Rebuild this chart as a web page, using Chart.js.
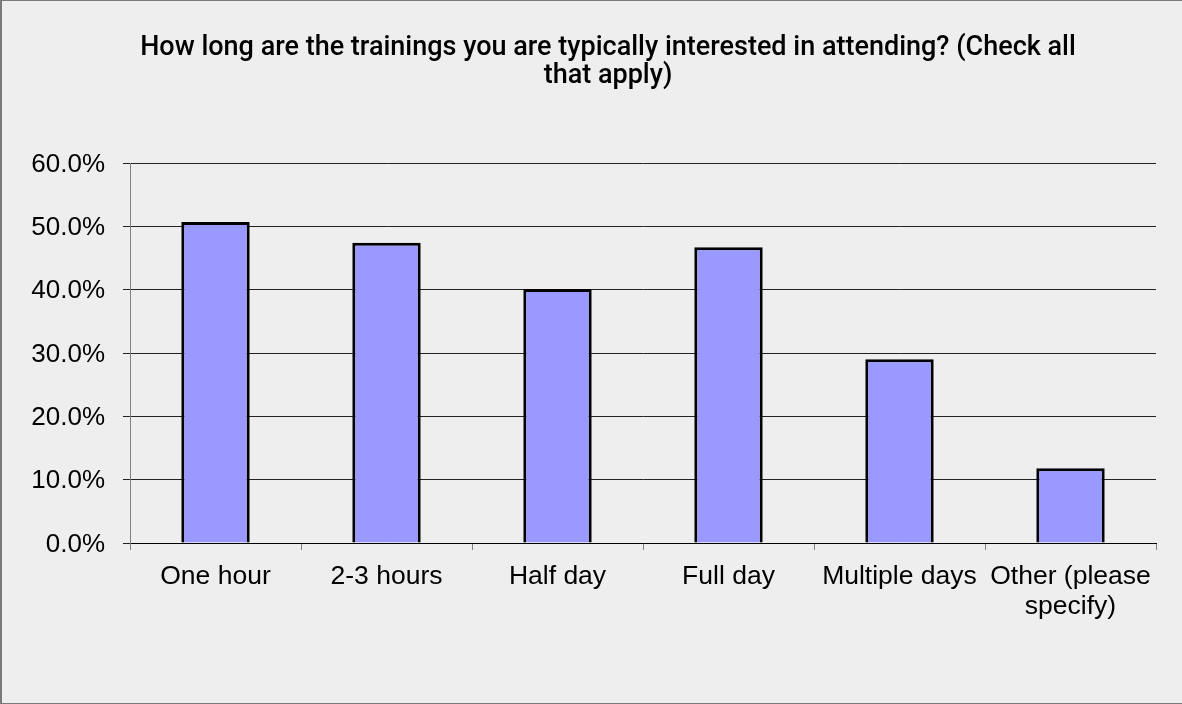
<!DOCTYPE html>
<html>
<head>
<meta charset="utf-8">
<script src="https://cdn.jsdelivr.net/npm/chart.js@4.4.0/dist/chart.umd.min.js"></script>
<style>
  html, body { margin: 0; padding: 0; background: #eeeeee; }
  canvas { display: block; }
</style>
</head>
<body>
<canvas id="chartDuration" width="1182" height="704"></canvas>
<script>
var titleLines = ['How long are the trainings you are typically interested in attending? (Check all', 'that apply)'];
var categories = ['One hour', '2-3 hours', 'Half day', 'Full day', 'Multiple days', ['Other (please', 'specify)']];
var percentages = [50.7, 47.4, 40.1, 46.7, 29.0, 11.8];
var yTicks = [0, 10, 20, 30, 40, 50, 60];

// background + frame like the original export
var framePlugin = {
    id: 'frame',
    beforeDraw: function(chart) {
        var c = chart.ctx;
        c.save();
        c.fillStyle = '#eeeeee';
        c.fillRect(0, 0, chart.width, chart.height);
        c.fillStyle = '#7a7a7a';
        c.fillRect(0, 0, chart.width, 1);
        c.fillRect(0, 0, 2, chart.height);
        c.fillRect(0, chart.height - 1, chart.width, 1);
        c.restore();
    }
};

// the title in the original sits a bit right of the canvas centre
var titleShift = {
    id: 'titleShift',
    afterLayout: function(chart) {
        if (chart.titleBlock) {
            chart.titleBlock.left += 30;
            chart.titleBlock.right += 30;
        }
    }
};

var ctx = document.getElementById('chartDuration');
var myChart = new Chart(ctx, {
    type: 'bar',
    data: {
        labels: categories,
        datasets: [{
            label: 'Percent',
            data: percentages,
            backgroundColor: '#9999ff',
            borderColor: '#000000',
            borderWidth: 3,
            barPercentage: 0.4,
            categoryPercentage: 1.0
        }]
    },
    options: {
        responsive: false,
        animation: false,
        layout: { padding: { left: 0, right: 26, top: 0, bottom: 0 } },
        plugins: {
            legend: { display: false },
            tooltip: { enabled: false },
            title: {
                display: true,
                text: titleLines,
                color: '#000000',
                font: { family: 'Roboto', size: 27, weight: '500', lineHeight: 28 / 27 },
                padding: { top: 34, bottom: 73 }
            }
        },
        scales: {
            x: {
                grid: {
                    display: true,
                    drawOnChartArea: false,
                    drawTicks: true,
                    tickLength: 7,
                    color: '#808080',
                    offset: true
                },
                border: { color: '#000000', width: 1 },
                ticks: {
                    color: '#000000',
                    font: { family: 'Liberation Sans', size: 26.5, lineHeight: 1.12 },
                    padding: 12,
                    maxRotation: 0,
                    autoSkip: false
                },
                afterFit: function(scale) { scale.height = 161; }
            },
            y: {
                min: 0,
                max: 60,
                afterBuildTicks: function(scale) {
                    scale.ticks = yTicks.map(function(v) { return { value: v }; });
                },
                grid: {
                    color: '#222222',
                    lineWidth: 1,
                    tickLength: 7
                },
                border: { color: '#808080', width: 1 },
                ticks: {
                    color: '#000000',
                    font: { family: 'Liberation Sans', size: 26 },
                    padding: 18,
                    labelOffset: 1.5,
                    callback: function(v) { return v.toFixed(1) + '%'; }
                },
                afterFit: function(scale) { scale.width = 130; }
            }
        }
    },
    plugins: [framePlugin, titleShift]
});
</script>
</body>
</html>
